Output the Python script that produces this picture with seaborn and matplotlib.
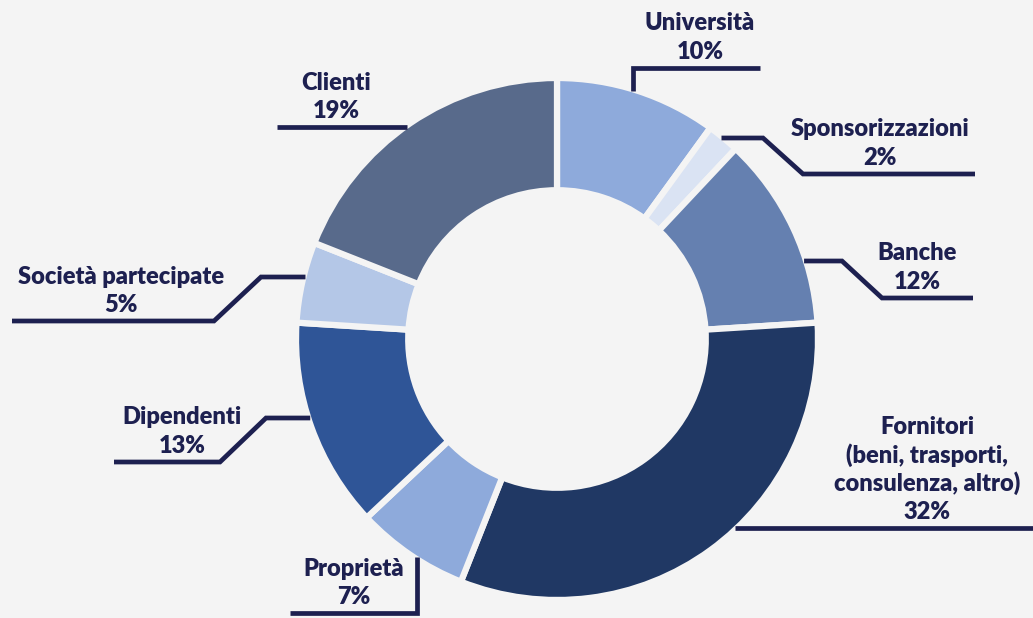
import numpy as np
import matplotlib.pyplot as plt
import seaborn as sns

# Stakeholder shares (clockwise from 12 o'clock)
labels = ['Università', 'Sponsorizzazioni', 'Banche',
          'Fornitori\n(beni, trasporti,\nconsulenza, altro)',
          'Proprietà', 'Dipendenti', 'Società partecipate', 'Clienti']
values = [10, 2, 12, 32, 7, 13, 5, 19]
colors = ['#8eaadb', '#dae3f3', '#6580b0', '#203864',
          '#8eaadb', '#2f5597', '#b4c7e7', '#586a8b']

W, H = 1033, 618
cx, cy, R = 557, 339, 261     # centre / radius in image pixels
bg = '#f4f4f4'
ink = '#1d2050'

# leader layout in image pixels:
# (first segment dir, fixed coord, knee, end of diagonal, end x, text centre x)
layout = [
    ('v', 633, 68, None, 760, 700),
    ('h', 138, 763, (803, 174), 975, 880),
    ('h', 261, 842, (882, 298), 973, 917),
    ('h', 528, None, None, 1033, 927),
    ('v', 417, 613, None, 290, 354),
    ('h', 418, 266, (220, 462), 114, 182),
    ('h', 277, 261, (214, 321), 12, 121),
    ('h', 127, None, None, 277, 336),
]

sns.set_theme(style='white')
plt.rcParams['font.family'] = ['Lato', 'DejaVu Sans']

fig = plt.figure(figsize=(W / 100, H / 100), dpi=100)
fig.patch.set_facecolor(bg)
ax = fig.add_axes([0, 0, 1, 1])
ax.set_facecolor(bg)

ax.pie(values, colors=colors, startangle=90, counterclock=False,
       radius=R, center=(cx, H - cy),
       wedgeprops=dict(width=R * 0.43, edgecolor=bg, linewidth=4.5))
ax.set_xlim(0, W)
ax.set_ylim(0, H)
ax.set_aspect('equal')
ax.axis('off')


def Y(y):
    return H - y


for lab, v, (d, c, knee, diag, ex, tx) in zip(labels, values, layout):
    if d == 'h':
        y = c
        side = 1 if ex > cx else -1
        ax0 = cx + side * np.sqrt(R ** 2 - (y - cy) ** 2) - side * 2
        pts = [(ax0, y)]
        if knee is not None:
            pts.append((knee, y))
        if diag is not None:
            pts.append(diag)
        line_y = pts[-1][1]
        pts.append((ex, line_y))
    else:
        x = c
        side = -1 if knee < cy else 1
        ay0 = cy + side * np.sqrt(R ** 2 - (x - cx) ** 2) - side * 2
        pts = [(x, ay0), (x, knee), (ex, knee)]
        line_y = knee
    xs = [p[0] for p in pts]
    ys = [Y(p[1]) for p in pts]
    ax.plot(xs, ys, color=ink, lw=3.4, solid_capstyle='butt',
            solid_joinstyle='miter')

    lines = lab.split('\n') + [f'{v}%']
    for i, t in enumerate(reversed(lines)):
        ax.text(tx, Y(line_y - 16 - i * 28.5), t, ha='center', va='center',
                fontsize=17, fontweight='heavy', color=ink)

fig.savefig('out.png', dpi=100, facecolor=bg)
